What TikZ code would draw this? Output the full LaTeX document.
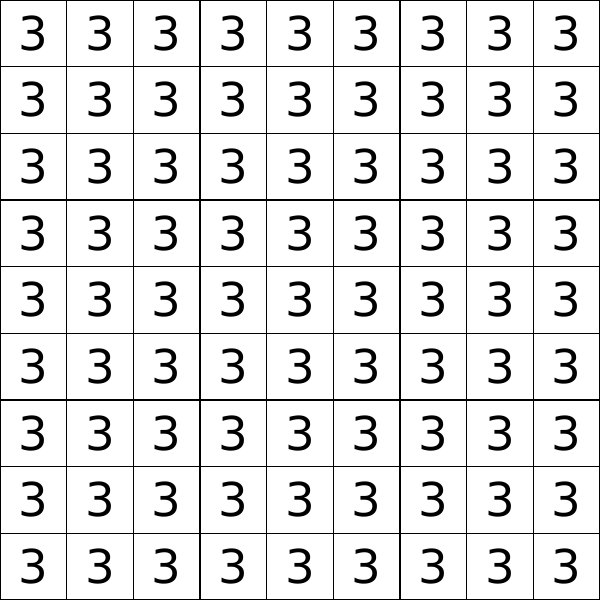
\documentclass[tikz,border=0pt]{standalone}
\usepackage{fontspec}
\setmainfont{DejaVu Sans}

\begin{document}
\begin{tikzpicture}[x=0.75pt,y=0.75pt,yscale=-1,xscale=1,
	thinline/.style={line width=0.75pt},
	boxline/.style={line width=1.6pt},
	digit/.style={inner sep=0pt,font=\fontsize{35}{40}\selectfont}]
	\useasboundingbox (0,0) rectangle (600,600);
	% cell lines
	\foreach \i in {1,2,4,5,7,8} {
		\draw [thinline] ({\i*200/3},0) -- ({\i*200/3},600) ;
		\draw [thinline] (0,{\i*200/3}) -- (600,{\i*200/3}) ;
	}
	% box lines and border
	\foreach \i in {0,3,6,9} {
		\draw [boxline] ({\i*200/3},0) -- ({\i*200/3},600) ;
		\draw [boxline] (0,{\i*200/3}) -- (600,{\i*200/3}) ;
	}
	% digits
	\foreach \r in {1,...,9} {
		\foreach \c in {1,...,9} {
			\node [digit] (d\r\c) at ({(\c-0.5)*200/3},{(\r-0.5)*200/3}) {3};
		}
	}
\end{tikzpicture}
\end{document}
